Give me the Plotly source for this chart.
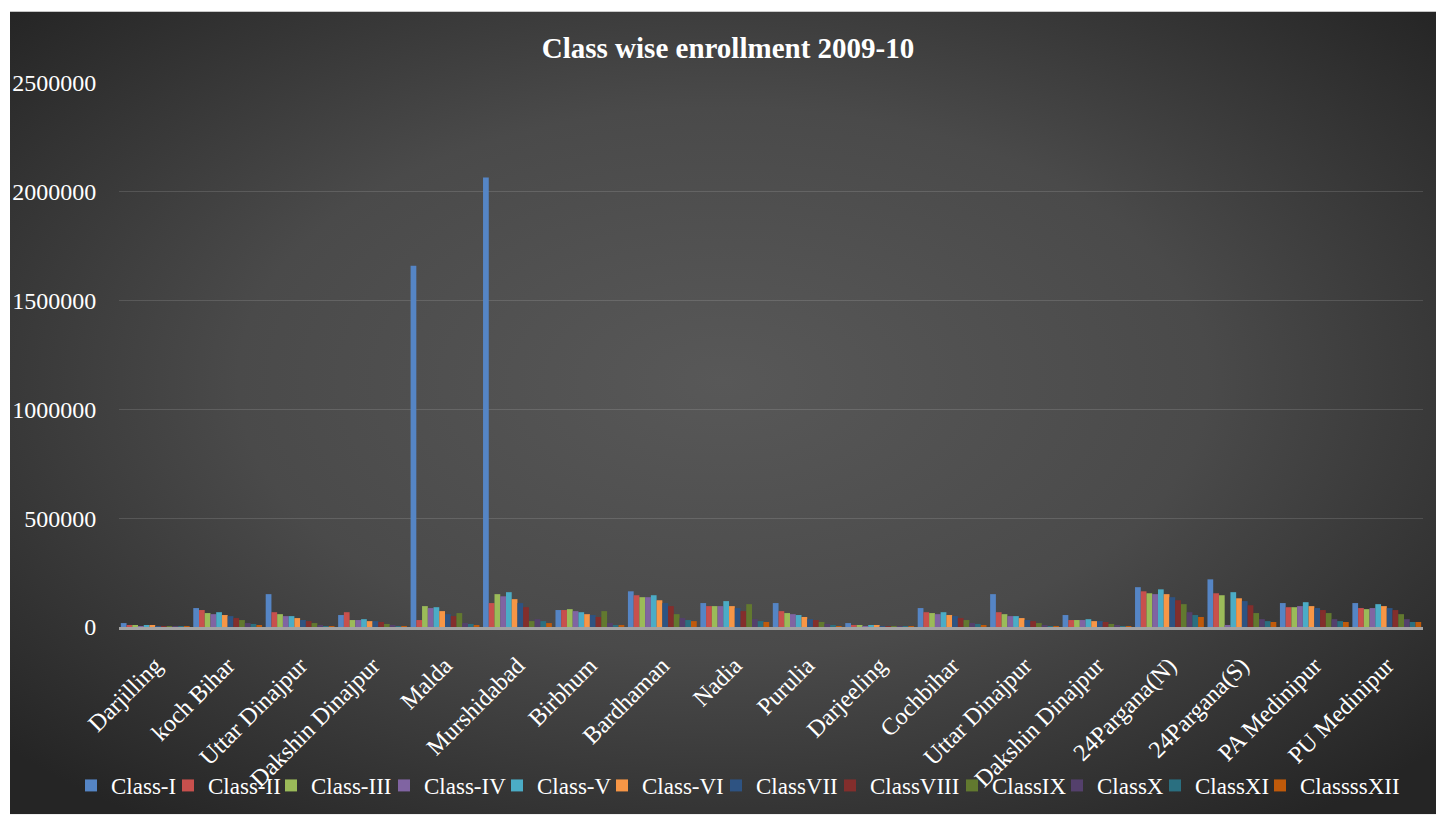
import base64
import plotly.graph_objects as go

# District-wise enrollment by class, 2009-10
districts = ["Darjilling", "koch Bihar", "Uttar Dinajpur", "Dakshin Dinajpur", "Malda",
             "Murshidabad", "Birbhum", "Bardhaman", "Nadia", "Purulia", "Darjeeling",
             "Cochbihar", "Uttar Dinajpur", "Dakshin Dinajpur", "24Pargana(N)",
             "24Pargana(S)", "PA Medinipur", "PU Medinipur"]

class_names = ["Class-I", "Class-II", "Class-III", "Class-IV", "Class-V", "Class-VI",
               "ClassVII", "ClassVIII", "ClassIX", "ClassX", "ClassXI", "ClassssXII"]

class_1 = [18000, 87000, 151000, 55000, 1660000, 2066000, 78000, 164000, 110000,
           110000, 18000, 87000, 151000, 55000, 183000, 219000, 110000, 110000]
class_2 = [9000, 78000, 68000, 68000, 32000, 110000, 78000, 146000, 96000,
           73000, 9000, 68000, 68000, 32000, 164000, 155000, 91000, 87000]
class_3 = [9000, 64000, 59000, 32000, 96000, 151000, 82000, 137000, 96000,
           64000, 9000, 64000, 59000, 32000, 155000, 146000, 91000, 82000]
class_4 = [4500, 59000, 50000, 32000, 87000, 141000, 73000, 137000, 96000,
           59000, 4500, 59000, 50000, 32000, 151000, 9000, 96000, 87000]
class_5 = [9000, 68000, 50000, 36000, 91000, 160000, 68000, 146000, 119000,
           55000, 9000, 68000, 50000, 36000, 173000, 160000, 114000, 105000]
class_6 = [9000, 55000, 41000, 27000, 73000, 128000, 59000, 123000, 96000,
           46000, 9000, 55000, 41000, 27000, 151000, 132000, 96000, 96000]
class_7 = [4500, 50000, 32000, 27000, 59000, 110000, 55000, 110000, 87000,
           36000, 4500, 50000, 32000, 27000, 137000, 119000, 87000, 87000]
class_8 = [4500, 41000, 27000, 23000, 50000, 91000, 46000, 96000, 73000,
           32000, 4500, 41000, 27000, 23000, 123000, 100000, 78000, 78000]
class_9 = [1500, 32000, 18000, 14000, 64000, 27000, 73000, 59000, 105000,
           23000, 1500, 32000, 18000, 14000, 105000, 64000, 64000, 59000]
class_10 = [1500, 18000, 9000, 9000, 18000, 36000, 18000, 41000, 36000,
            14000, 1500, 18000, 9000, 9000, 68000, 36000, 36000, 36000]
class_11 = [1500, 14000, 4500, 4500, 14000, 27000, 9000, 32000, 27000,
            9000, 1500, 14000, 4500, 4500, 55000, 27000, 27000, 23000]
class_12 = [1500, 9000, 4500, 4500, 9000, 18000, 9000, 27000, 23000,
            4500, 1500, 9000, 4500, 4500, 46000, 23000, 23000, 23000]

series = [class_1, class_2, class_3, class_4, class_5, class_6,
          class_7, class_8, class_9, class_10, class_11, class_12]

y_ticks = [0, 500000, 1000000, 1500000, 2000000, 2500000]

# styling
colors = ["#5585C5", "#C8504D", "#9BBB59", "#8064A2", "#4BACC6", "#F79646",
          "#2E5382", "#832E2C", "#62792F", "#54406C", "#2A6F80", "#C05A0A"]
# per-entry widths (px) so the legend stays on one compact row
legend_entry_px = [52, 58, 68, 68, 60, 69, 69, 77, 60, 53, 60, 115]

FONT = "Liberation Serif, Times New Roman, serif"
W, H = 1436, 819
L, R, T, B = 119, 13, 83, 188.5

# positions keep repeated district names as separate groups
positions = list(range(len(districts)))

fig = go.Figure()
for name, vals, col, lw in zip(class_names, series, colors, legend_entry_px):
    fig.add_trace(go.Bar(name=name, x=positions, y=vals, marker_color=col,
                         marker_line_width=0, legendwidth=lw))

# dark radial backdrop
svg = ('<svg xmlns="http://www.w3.org/2000/svg" width="1426" height="808" '
       'viewBox="0 0 1426 808" preserveAspectRatio="none"><defs>'
       '<radialGradient id="g" cx="0.5" cy="0.46" r="0.68">'
       '<stop offset="0" stop-color="#585858"/>'
       '<stop offset="0.5" stop-color="#4a4a4a"/>'
       '<stop offset="1" stop-color="#252525"/></radialGradient></defs>'
       '<rect width="1426" height="808" fill="url(#g)"/></svg>')
src = "data:image/svg+xml;base64," + base64.b64encode(svg.encode()).decode()
pw, ph = W - L - R, H - T - B
fig.add_layout_image(dict(source=src, xref="paper", yref="paper",
                          x=(10 - L) / pw, y=1 + (T - 11) / ph,
                          sizex=(W - 10) / pw, sizey=(H - 11) / ph,
                          sizing="stretch", layer="below",
                          xanchor="left", yanchor="top"))

fig.update_layout(
    width=W, height=H,
    margin=dict(l=L, r=R, t=T, b=B),
    paper_bgcolor="white",
    plot_bgcolor="rgba(0,0,0,0)",
    barmode="group", bargap=0.05, bargroupgap=0,
    font=dict(family=FONT, color="white"),
    title=dict(text="<b>Class wise enrollment 2009-10</b>",
               font=dict(family=FONT, size=29, color="white"),
               x=728 / W, xref="container", xanchor="center",
               y=1 - 48 / H, yref="container", yanchor="middle"),
    xaxis=dict(range=[-0.5, len(districts) - 0.5], tickmode="array",
               tickvals=positions, ticktext=districts, tickangle=-45,
               tickfont=dict(family=FONT, size=24, color="white"),
               showgrid=False, zeroline=False,
               showline=True, linecolor="#a3a3a3", linewidth=3,
               ticks="outside", ticklen=12, tickcolor="rgba(0,0,0,0)"),
    yaxis=dict(range=[0, 2500000], tickmode="array", tickvals=y_ticks,
               ticktext=[str(v) for v in y_ticks],
               tickfont=dict(family=FONT, size=24, color="white"),
               showgrid=True, gridcolor="rgba(255,255,255,0.13)", gridwidth=1,
               zeroline=False, showline=False,
               ticks="outside", ticklen=17, tickcolor="rgba(0,0,0,0)"),
    legend=dict(orientation="h", x=(71 - L) / pw, xanchor="left",
                y=(T + ph - 790) / ph, yanchor="middle",
                font=dict(family=FONT, size=23, color="white"),
                bgcolor="rgba(0,0,0,0)", itemwidth=30, tracegroupgap=0),
)

fig.write_html("out.html")
